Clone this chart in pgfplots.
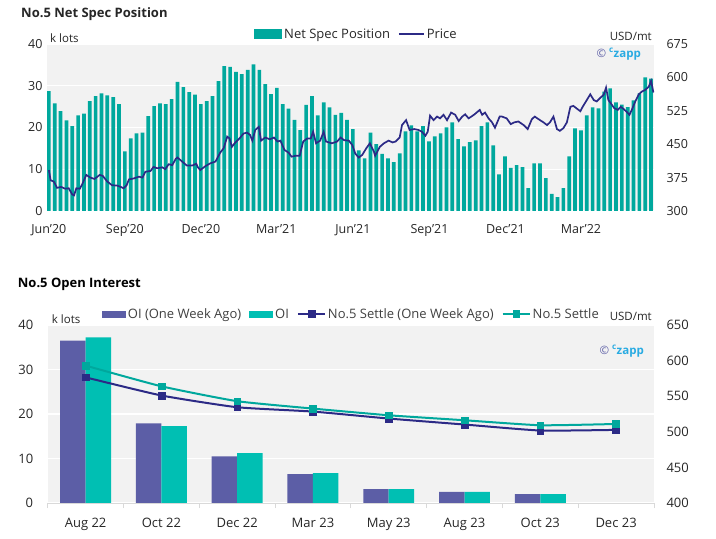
\documentclass[border=0pt]{standalone}
\usepackage{pgfplots}
\pgfplotsset{compat=1.18}
\usepackage{pgfplotstable}
\usepackage{fontspec}
\setmainfont{Open Sans}
\definecolor{barteal}{RGB}{0,168,157}
\definecolor{oiteal}{RGB}{0,191,179}
\definecolor{oipurple}{RGB}{92,94,166}
\definecolor{navy}{RGB}{44,42,134}
\definecolor{bggray}{RGB}{242,242,242}
\definecolor{txt}{RGB}{38,38,38}
\definecolor{legtxt}{RGB}{64,64,64}
\definecolor{czblue}{RGB}{41,171,226}
\definecolor{axgray}{RGB}{217,217,217}
\pgfplotsset{
  rectlegend/.style={legend image code/.code={\fill[##1, draw=none] (0bp,-5bp) rectangle (28bp,5bp);}},
  rectlegendB/.style={legend image code/.code={\fill[##1, draw=none] (0bp,-3.5bp) rectangle (24bp,3.5bp);}},
  linelegend/.style={legend image code/.code={\draw[##1] (0bp,0bp) -- (25bp,0bp);}},
  marklegend/.style={legend image code/.code={\draw[mark repeat=2,mark phase=2,##1] plot coordinates {(0bp,0bp) (13.5bp,0bp) (27bp,0bp)};}},
}
\pgfplotstableread{
x y
0 28.7
1 25.8
2 23.9
3 21.7
4 20.3
5 22.9
6 23.3
7 26.3
8 27.5
9 28.2
10 27.7
11 27.3
12 25.6
13 14.3
14 17.4
15 18.6
16 18.8
17 22.7
18 25.1
19 25.8
20 25.6
21 26.8
22 30.9
23 29.7
24 28.5
25 27.9
26 25.6
27 26.3
28 27.5
29 31.1
30 34.7
31 34.5
32 33.3
33 32.8
34 33.8
35 35.1
36 33.8
37 30.4
38 28.0
39 29.5
40 25.6
41 24.5
42 21.8
43 19.4
44 25.4
45 27.5
46 22.9
47 26.0
48 24.8
49 23.0
50 23.5
51 21.8
52 19.6
53 14.5
54 12.6
55 18.8
56 16.0
57 13.7
58 12.6
59 11.7
60 13.8
61 19.1
62 20.5
63 19.1
64 20.3
65 16.7
66 17.9
67 18.6
68 20.0
69 21.2
70 17.2
71 15.5
72 16.5
73 16.9
74 20.3
75 21.2
76 15.7
77 8.8
78 13.1
79 10.3
80 11.0
81 10.5
82 5.5
83 11.4
84 11.4
85 7.9
86 4.1
87 3.3
88 5.5
89 13.1
90 19.8
91 19.3
92 22.9
93 24.8
94 24.6
95 28.6
96 29.4
97 26.0
98 25.5
99 24.9
100 26.5
101 28.2
102 32.0
103 31.7
}\netspec
\pgfplotstableread{
x p
0 392
0.3 369
0.85 366
1.4 352
2.1 354
2.8 350
3.4 351
4.0 337
4.3 335
4.7 351
5.3 350
5.7 360
6.4 381
7.1 375
7.8 372
8.7 381
9.2 379
10.0 366
10.8 358
11.7 357
12.3 354
12.8 351
13.3 358
13.7 371
14.5 373
15.4 377
16.0 375
16.5 388
17.4 390
17.9 399
18.5 396
19.4 398
19.9 394
20.5 405
21.1 403
21.7 417
22.0 420
22.8 411
23.6 402
24.5 402
25.2 406
25.5 398
25.9 392
26.8 401
27.6 407
28.5 411
29.3 431
29.9 441
30.5 467
30.9 463
31.3 444
31.9 454
32.6 463
33.3 474
33.9 476
34.4 471
34.8 458
35.3 482
35.9 489
36.3 458
37.0 465
37.8 461
38.5 465
39.1 456
39.6 458
40.3 437
41.0 431
41.5 422
42.2 424
42.9 424
43.5 456
44.2 463
44.8 463
45.2 478
45.7 452
46.4 458
47.0 478
47.4 456
48.4 452
49.3 456
49.9 465
50.5 459
51.3 458
51.9 448
52.4 429
53.0 420
53.6 426
54.3 441
54.9 452
55.6 433
55.8 424
56.6 444
57.3 452
58.1 458
58.8 454
59.3 456
60.0 465
60.4 493
61.1 504
61.7 482
62.5 484
63.2 482
63.8 478
64.4 469
64.8 478
65.2 514
65.8 504
66.4 512
66.9 508
67.5 516
68.1 504
68.8 521
69.5 516
70.1 502
70.7 512
71.2 517
71.8 508
72.7 516
73.7 527
74.1 516
74.6 521
75.2 508
75.8 499
76.3 487
77.1 512
77.5 512
78.3 508
79.0 495
79.6 499
80.3 501
81.2 493
81.9 484
82.6 506
83.1 512
84.0 504
84.6 499
85.2 493
85.7 499
86.3 512
86.9 484
87.4 480
88.0 486
88.6 499
89.2 534
89.7 536
90.4 529
90.9 524
91.3 534
92.0 549
92.6 562
93.2 549
93.7 546
94.3 554
94.9 561
95.3 577
95.7 549
96.1 542
96.7 531
97.3 527
97.8 534
98.3 529
98.8 523
99.3 516
99.7 527
100.3 546
100.9 562
101.4 568
102.0 572
102.6 579
103.0 592
103.4 566
}\price
\begin{document}
\begin{tikzpicture}
\useasboundingbox (0,0) rectangle (716bp,539bp);
% ---------------- top chart ----------------
\begin{axis}[
  at={(47bp,328bp)}, anchor=south west,
  scale only axis, width=607bp, height=167bp,
  xmin=-0.32, xmax=103.5, ymin=0, ymax=40,
  axis background/.style={fill=bggray},
  axis line style={draw=none},
  major tick length=0pt,
  ytick={0,10,20,30,40},
  ymajorgrids, grid style={white, line width=1.2bp},
  xtick={0,13,26,38.9,52,65.1,78.1,91},
  xticklabels={Jun'20,Sep'20,Dec'20,Mar'21,Jun'21,Sep'21,Dec'21,Mar'22},
  tick label style={font=\fontsize{12.5bp}{14bp}\selectfont, text=txt},
  /pgf/number format/assume math mode=true,
  yticklabel style={xshift=-1bp},
  xticklabel style={yshift=-10bp},
]
\addplot[ybar, bar width=0.63, fill=barteal, draw=none] table[x=x,y=y] {\netspec};
\end{axis}
\begin{axis}[
  at={(47bp,328bp)}, anchor=south west,
  scale only axis, width=607bp, height=167bp,
  xmin=-0.32, xmax=103.5, ymin=300, ymax=675,
  hide x axis,
  axis y line*=right,
  y axis line style={draw=none},
  major tick length=0pt,
  ytick={300,375,450,525,600,675},
  tick label style={font=\fontsize{12.5bp}{14bp}\selectfont, text=txt},
  /pgf/number format/assume math mode=true,
  yticklabel style={xshift=9bp},
  legend style={draw=none, fill=none, at={(0.509,1)}, anchor=south, yshift=1bp,
    legend columns=-1, font=\fontsize{13bp}{15bp}\selectfont, text=txt,
    nodes={inner sep=1bp},
    /tikz/every odd column/.append style={column sep=1bp},
    /tikz/every even column/.append style={column sep=7bp}},
]
\addlegendimage{rectlegend, fill=barteal}
\addlegendentry{Net Spec Position}
\addplot[navy, line width=1.7bp, linelegend] table[x=x,y=p] {\price};
\addlegendentry{Price}
\end{axis}
% ---------------- bottom chart ----------------
\begin{axis}[
  at={(47.7bp,36bp)}, anchor=south west,
  scale only axis, width=606.3bp, height=178bp,
  xmin=-0.5, xmax=7.5, ymin=0, ymax=40,
  axis background/.style={fill=bggray},
  axis x line*=bottom, axis y line*=left,
  x axis line style={draw=axgray, line width=1bp, -},
  y axis line style={draw=none},
  xtick={0,...,7},
  xticklabels={Aug 22,Oct 22,Dec 22,Mar 23,May 23,Aug 23,Oct 23,Dec 23},
  minor xtick={-0.5,0.5,...,7.5},
  major tick length=0pt, minor tick length=5bp, tick align=outside,
  minor tick style={draw=axgray, line width=1bp},
  ytick={0,10,20,30,40},
  ymajorgrids, grid style={white, line width=1.2bp},
  tick label style={font=\fontsize{13bp}{15bp}\selectfont, text=txt},
  /pgf/number format/assume math mode=true,
  yticklabel style={xshift=-11bp},
  xticklabel style={yshift=-12bp},
]
\addplot[ybar, bar width=0.336, bar shift=-0.168, fill=oipurple, draw=none]
  coordinates {(0,36.5) (1,17.9) (2,10.5) (3,6.5) (4,3.1) (5,2.5) (6,2.0)};
\addplot[ybar, bar width=0.336, bar shift=0.168, fill=oiteal, draw=none]
  coordinates {(0,37.2) (1,17.3) (2,11.2) (3,6.7) (4,3.1) (5,2.5) (6,2.0)};
\end{axis}
\begin{axis}[
  at={(47.7bp,36bp)}, anchor=south west,
  scale only axis, width=606.3bp, height=178bp,
  xmin=-0.5, xmax=7.5, ymin=400, ymax=650,
  hide x axis,
  axis y line*=right,
  y axis line style={draw=none},
  major tick length=0pt,
  ytick={400,450,...,650},
  tick label style={font=\fontsize{13bp}{15bp}\selectfont, text=txt},
  /pgf/number format/assume math mode=true,
  yticklabel style={xshift=9bp},
  legend style={draw=none, fill=none, at={(0.5,1)}, anchor=south, yshift=2bp,
    legend columns=-1, font=\fontsize{13bp}{15bp}\selectfont, text=legtxt,
    nodes={inner sep=1bp},
    /tikz/every odd column/.append style={column sep=1bp},
    /tikz/every even column/.append style={column sep=7bp}},
]
\addlegendimage{rectlegendB, fill=oipurple}
\addlegendentry{OI (One Week Ago)}
\addlegendimage{rectlegendB, fill=oiteal}
\addlegendentry{OI}
\addplot[navy, line width=2bp, smooth, tension=0.3, mark=square*, mark size=3.4bp, mark options={line width=0.5bp}, marklegend]
  coordinates {(0,576.5) (1,551) (2,534.5) (3,528.4) (4,518.6) (5,510.2) (6,501.8) (7,502.7)};
\addlegendentry{No.5 Settle (One Week Ago)}
\addplot[barteal, line width=2bp, smooth, tension=0.3, mark=square*, mark size=3.4bp, mark options={line width=0.5bp}, marklegend]
  coordinates {(0,593) (1,563.9) (2,543) (3,532.6) (4,523.2) (5,516.2) (6,509.2) (7,511)};
\addlegendentry{No.5 Settle}
\end{axis}
% ---------------- texts ----------------
\node[anchor=west, inner sep=0pt, font=\bfseries\fontsize{13bp}{15bp}\selectfont, text=txt] at (21bp,524.7bp) {No.5 Net Spec Position};
\node[anchor=west, inner sep=0pt, font=\fontsize{11.5bp}{13bp}\selectfont, text=txt] at (50bp,501.3bp) {k lots};
\node[anchor=east, inner sep=0pt, font=\fontsize{11.5bp}{13bp}\selectfont, text=txt] at (652bp,502.3bp) {USD/mt};
\node[anchor=east, inner sep=0pt, font=\fontsize{11.5bp}{13bp}\selectfont] at (641bp,484.7bp) {{\color{oipurple}©} {\color{czblue}\textsuperscript{\bfseries c}\textbf{zapp}}};
\node[anchor=west, inner sep=0pt, font=\bfseries\fontsize{13bp}{15bp}\selectfont, text=black] at (17.7bp,255bp) {No.5 Open Interest};
\node[anchor=west, inner sep=0pt, font=\fontsize{11.5bp}{13bp}\selectfont, text=txt] at (51.7bp,220bp) {k lots};
\node[anchor=east, inner sep=0pt, font=\fontsize{11.5bp}{13bp}\selectfont, text=txt] at (652bp,222.3bp) {USD/mt};
\node[anchor=east, inner sep=0pt, font=\fontsize{11.5bp}{13bp}\selectfont] at (644bp,188bp) {{\color{oipurple}©} {\color{czblue}\textsuperscript{\bfseries c}\textbf{zapp}}};
\end{tikzpicture}
\end{document}
